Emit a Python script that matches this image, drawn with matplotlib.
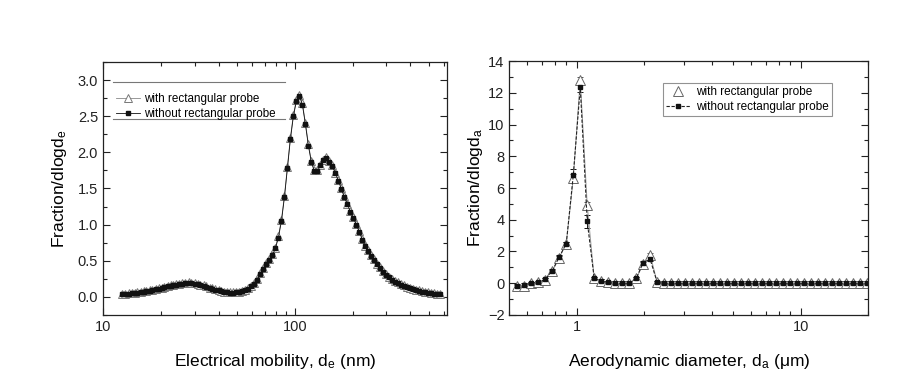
import matplotlib
matplotlib.use("Agg")
import matplotlib.pyplot as plt
from matplotlib.ticker import FuncFormatter, MultipleLocator, LogLocator, NullFormatter

plt.rcParams['font.family'] = ['Liberation Sans', 'DejaVu Sans']
plt.rcParams['mathtext.fontset'] = 'custom'
plt.rcParams['mathtext.rm'] = 'Liberation Sans'
plt.rcParams['mathtext.it'] = 'Liberation Sans'

# SMPS channels (nm)
d_e = [12.6, 13.1, 13.6, 14.1, 14.6, 15.1, 15.7, 16.3, 16.8, 17.5, 18.1, 18.8, 19.5,
       20.2, 20.9, 21.7, 22.5, 23.3, 24.1, 25.0, 25.9, 26.9, 27.9, 28.9, 30.0, 31.1,
       32.2, 33.4, 34.6, 35.9, 37.2, 38.5, 40.0, 41.4, 42.9, 44.5, 46.1, 47.8, 49.6,
       51.4, 53.3, 55.2, 57.3, 59.4, 61.5, 63.8, 66.1, 68.5, 71.0, 73.7, 76.4, 79.1,
       82.0, 85.1, 88.2, 91.4, 94.7, 98.2, 101.8, 105.5, 109.4, 113.4, 117.6, 121.9,
       126.3, 131.0, 135.8, 140.7, 145.9, 151.2, 156.8, 162.5, 168.5, 174.7, 181.1,
       187.7, 194.6, 201.7, 209.1, 216.7, 224.7, 232.9, 241.4, 250.3, 259.5, 269.0,
       278.8, 289.0, 299.6, 310.6, 322.0, 333.8, 346.0, 358.7, 371.8, 385.4, 399.5,
       414.2, 429.4, 445.1, 461.4, 478.3, 495.8, 514.0, 532.8, 552.3, 572.5]
smps_with = [0.04, 0.045, 0.05, 0.055, 0.06, 0.065, 0.07, 0.08, 0.085, 0.09, 0.10, 0.11, 0.12,
             0.13, 0.14, 0.15, 0.16, 0.17, 0.175, 0.18, 0.19, 0.195, 0.20, 0.195, 0.19, 0.18,
             0.17, 0.16, 0.145, 0.13, 0.12, 0.105, 0.095, 0.085, 0.075, 0.07, 0.065, 0.065, 0.07,
             0.075, 0.085, 0.10, 0.12, 0.15, 0.19, 0.25, 0.33, 0.40, 0.47, 0.52, 0.59, 0.68,
             0.84, 1.07, 1.40, 1.80, 2.20, 2.52, 2.73, 2.80, 2.68, 2.41, 2.11, 1.88,
             1.75, 1.75, 1.83, 1.90, 1.93, 1.88, 1.82, 1.72, 1.62, 1.50, 1.39,
             1.29, 1.19, 1.10, 1.01, 0.91, 0.80, 0.71, 0.65, 0.58, 0.52, 0.46,
             0.41, 0.36, 0.32, 0.28, 0.25, 0.22, 0.20, 0.18, 0.16, 0.14, 0.13,
             0.11, 0.10, 0.09, 0.08, 0.07, 0.065, 0.055, 0.05, 0.045, 0.04]
smps_without = [0.035, 0.04, 0.045, 0.05, 0.055, 0.06, 0.065, 0.075, 0.08, 0.085, 0.095, 0.105, 0.115,
                0.125, 0.135, 0.145, 0.155, 0.165, 0.17, 0.175, 0.185, 0.19, 0.195, 0.19, 0.185, 0.175,
                0.165, 0.155, 0.14, 0.125, 0.115, 0.10, 0.09, 0.08, 0.07, 0.065, 0.06, 0.06, 0.065,
                0.07, 0.08, 0.095, 0.115, 0.145, 0.185, 0.24, 0.32, 0.39, 0.46, 0.51, 0.58, 0.67,
                0.82, 1.05, 1.38, 1.78, 2.18, 2.50, 2.71, 2.78, 2.66, 2.39, 2.09, 1.86,
                1.74, 1.74, 1.82, 1.89, 1.92, 1.87, 1.81, 1.71, 1.61, 1.49, 1.38,
                1.28, 1.18, 1.09, 1.00, 0.90, 0.79, 0.70, 0.64, 0.57, 0.51, 0.45,
                0.40, 0.35, 0.31, 0.27, 0.24, 0.21, 0.19, 0.17, 0.15, 0.135, 0.125,
                0.105, 0.095, 0.085, 0.075, 0.065, 0.06, 0.05, 0.045, 0.04, 0.035]

# APS channels (um)
d_a = [0.542, 0.583, 0.626, 0.673, 0.723, 0.777, 0.835, 0.898, 0.965, 1.037, 1.114,
       1.197, 1.286, 1.382, 1.486, 1.596, 1.715, 1.843, 1.981, 2.129, 2.288, 2.458,
       2.642, 2.839, 3.051, 3.278, 3.523, 3.786, 4.068, 4.371, 4.698, 5.048, 5.425,
       5.829, 6.264, 6.732, 7.234, 7.774, 8.354, 8.977, 9.647, 10.37, 11.14, 11.97,
       12.86, 13.82, 14.86, 15.96, 17.15, 18.43, 19.81]
aps_with = [-0.2, -0.2, 0.0, 0.05, 0.2, 0.75, 1.6, 2.5, 6.6, 12.8, 4.9,
            0.3, 0.15, 0.05, 0.0, 0.0, 0.0, 0.3, 1.2, 1.78, 0.05, 0.0,
            0.0, 0.0, 0.0, 0.0, 0.0, 0.0, 0.0, 0.0, 0.0, 0.0, 0.0,
            0.0, 0.0, 0.0, 0.0, 0.0, 0.0, 0.0, 0.0, 0.0, 0.0, 0.0,
            0.0, 0.0, 0.0, 0.0, 0.0, 0.0, 0.0]
aps_without = [-0.15, -0.1, 0.0, 0.05, 0.25, 0.78, 1.65, 2.5, 6.8, 12.35, 3.9,
               0.3, 0.15, 0.05, 0.0, 0.0, 0.0, 0.3, 1.3, 1.5, 0.05, 0.0,
               0.0, 0.0, 0.0, 0.0, 0.0, 0.0, 0.0, 0.0, 0.0, 0.0, 0.0,
               0.0, 0.0, 0.0, 0.0, 0.0, 0.0, 0.0, 0.0, 0.0, 0.0, 0.0,
               0.0, 0.0, 0.0, 0.0, 0.0, 0.0, 0.0]
err_with = [0.1] * 8 + [0.3, 0.2, 0.2] + [0.12] * 40
err_without = [0.1] * 8 + [0.4, 0.3, 0.4] + [0.12] * 40

fig = plt.figure(figsize=(9.01, 3.82), dpi=100)
ax1 = fig.add_axes([0.1143, 0.1754, 0.3818, 0.6623])
ax2 = fig.add_axes([0.5653, 0.1754, 0.3981, 0.6649])

dark = '#222222'
for ax in (ax1, ax2):
    ax.set_xscale('log')
    ax.tick_params(which='both', direction='in', top=True, right=True,
                   labelsize=10.5, colors=dark, width=0.8)
    ax.tick_params(which='major', length=5)
    ax.tick_params(which='minor', length=3)
    for s in ax.spines.values():
        s.set_color(dark)
        s.set_linewidth(0.9)
    ax.xaxis.set_major_formatter(FuncFormatter(lambda v, p: '%g' % v))
    ax.xaxis.set_minor_formatter(NullFormatter())
    ax.xaxis.set_minor_locator(LogLocator(base=10, subs=range(2, 10)))

# left panel
ax1.plot(d_e, smps_with, '-', color='#888888', lw=0.6, marker='^', ms=5.5,
         mfc='white', mec='#777777', mew=0.7, label='with rectangular probe')
ax1.plot(d_e, smps_without, '-', color='#111111', lw=0.6, marker='s', ms=2.6,
         mfc='#111111', mec='#111111', label='without rectangular probe')
ax1.set_xlim(10, 620)
ax1.set_ylim(-0.25, 3.25)
ax1.yaxis.set_major_locator(MultipleLocator(0.5))
ax1.yaxis.set_minor_locator(MultipleLocator(0.25))
ax1.yaxis.set_major_formatter(FuncFormatter(lambda v, p: '%.1f' % v))
ax1.set_xlabel('Electrical mobility, d$_\\mathregular{e}$ (nm)', fontsize=12.5, labelpad=13)
ax1.set_ylabel('Fraction/dlogd$_\\mathregular{e}$', fontsize=12.5, labelpad=6)
ax1.legend(loc='upper left', bbox_to_anchor=(0.015, 0.91), frameon=False, fontsize=8.4,
           handlelength=2.0, handletextpad=0.35, labelspacing=0.3, borderpad=0.2)
ax1.plot([0.03, 0.53], [0.92, 0.92], color='#777777', lw=0.8, transform=ax1.transAxes)
ax1.plot([0.03, 0.53], [0.775, 0.775], color='#777777', lw=0.8, transform=ax1.transAxes)

# right panel
ax2.errorbar(d_a, aps_with, yerr=err_with, fmt='none', ecolor='#555555',
             elinewidth=0.7, capsize=2, capthick=0.7)
ax2.errorbar(d_a, aps_without, yerr=err_without, fmt='none', ecolor='#111111',
             elinewidth=0.7, capsize=2, capthick=0.7)
ax2.plot(d_a, aps_with, '-', color='#999999', lw=0.7)
ax2.plot(d_a, aps_with, linestyle='none', marker='^', ms=6.5, mfc='white',
         mec='#666666', mew=0.7, label='with rectangular probe')
ax2.plot(d_a, aps_without, '--', color='#222222', lw=0.8, dashes=(3, 1.5), marker='s',
         ms=3.5, mfc='#111111', mec='#111111', label='without rectangular probe')
ax2.set_xlim(0.5, 20)
ax2.set_ylim(-2, 14)
ax2.yaxis.set_major_locator(MultipleLocator(2))
ax2.yaxis.set_minor_locator(MultipleLocator(1))
ax2.set_xlabel('Aerodynamic diameter, d$_\\mathregular{a}$ (μm)', fontsize=12.5, labelpad=13)
ax2.set_ylabel('Fraction/dlogd$_\\mathregular{a}$', fontsize=12.5, labelpad=2)
leg = ax2.legend(loc='upper right', bbox_to_anchor=(0.915, 0.935), fontsize=8.5,
                 handlelength=2.0, handletextpad=0.5, labelspacing=0.2, borderpad=0.25,
                 fancybox=False, edgecolor='#777777')
leg.get_frame().set_linewidth(0.8)

fig.savefig('out.png', dpi=100, facecolor='white')
